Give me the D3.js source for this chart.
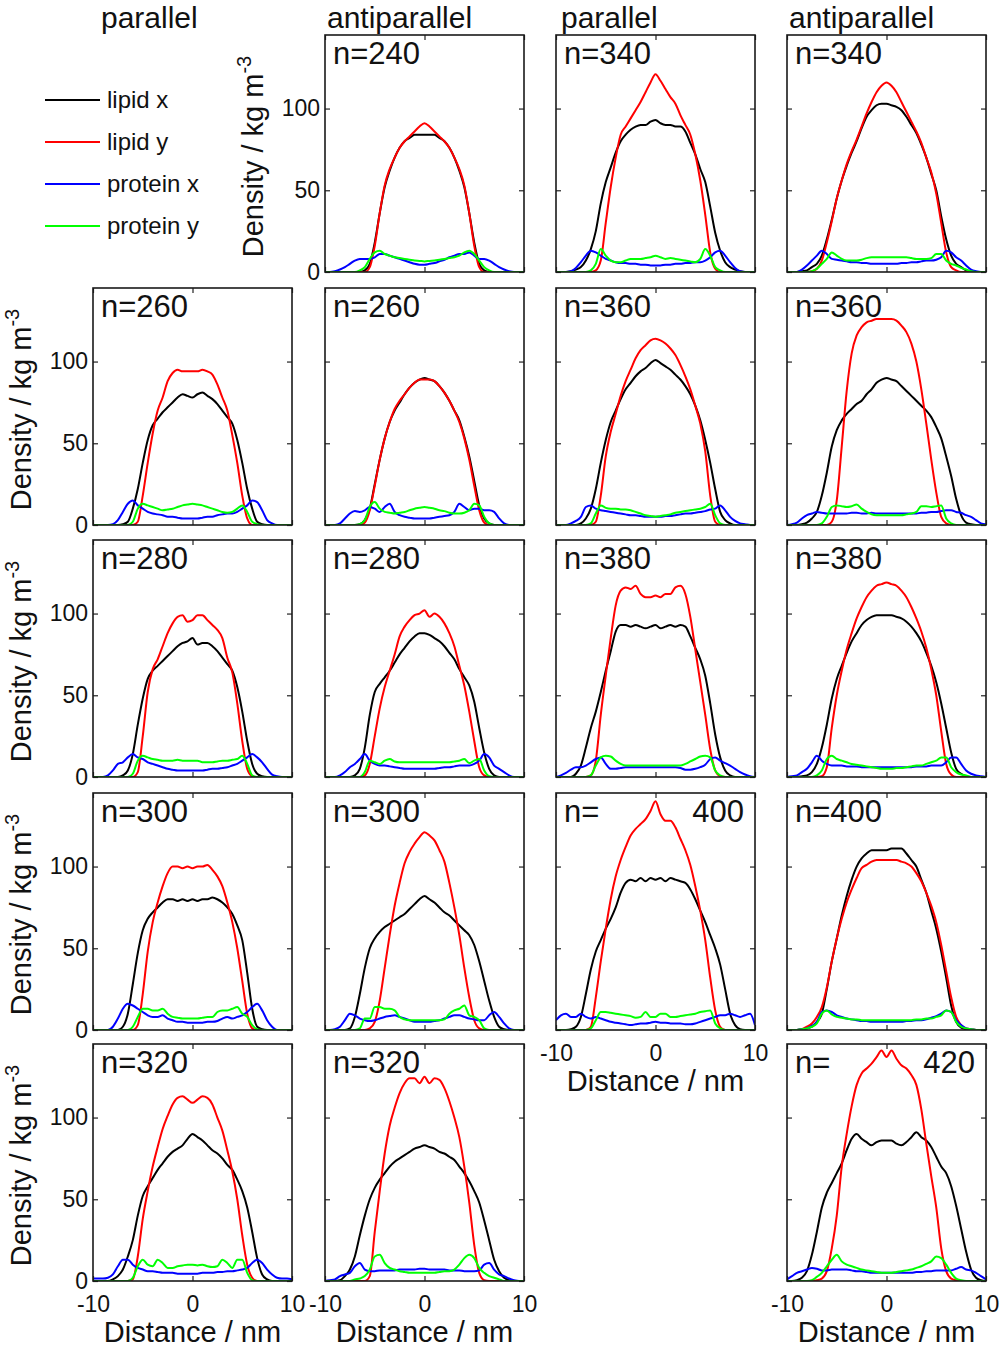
<!DOCTYPE html>
<html><head><meta charset="utf-8">
<script src="https://cdn.jsdelivr.net/npm/d3@7"></script>
<style>
body{margin:0;background:#fff}
svg{display:block}
text{font-family:"Liberation Sans",Arial,Helvetica,sans-serif;fill:#111}
</style>
</head><body>
<svg id="chart" width="1001" height="1349"></svg>
<script>
// ---------- data ----------
const distance = [-10,-9.5,-9,-8.5,-8,-7.5,-7,-6.5,-6,-5.5,-5,-4.5,-4,-3.5,-3,-2.5,-2,-1.5,-1,-0.5,0,0.5,1,1.5,2,2.5,3,3.5,4,4.5,5,5.5,6,6.5,7,7.5,8,8.5,9,9.5,10];
const seriesKeys = ["lipidX","lipidY","proteinX","proteinY"];
const seriesNames = ["lipid x","lipid y","protein x","protein y"];
const seriesColors = ["#000000","#ff0000","#0000ff","#00ff00"];
const columnTitles = ["parallel","antiparallel","parallel","antiparallel"];
const yTickValues = [0,50,100];
const xTickValues = [-10,0,10];

const anti240 = {
 lipidX:  [0,0,0,0,0,0,0,0,1,5, 18,36,52,62,70,76,80,82,84,84,84,84,84,82,80,76,70,62,52,36,18, 5,1,0,0,0,0,0,0,0,0],
 lipidY:  [0,0,0,0,0,0,0,0,0,3, 16,36,53,63,70,76,80,83,86,89,91,89,86,83,80,76,70,63,53,36,16, 3,0,0,0,0,0,0,0,0,0],
 proteinX:[0,0,0.5,1.5,3,5,7,8,8,8, 9,11,11,10,9,8,7,6,5,4.5,4.5,5,5.5,6.5,7.5,9,10,11,11,12,10, 8,8,7,5,3,1.5,0.5,0,0,0],
 proteinY:[0,0,0,0,0,0,0,1,3,8, 12,13,11,10,9,8.5,8,7.5,7,6.8,6.5,6.8,7,7.5,8,8.5,9,10,12,13,11, 7,3,1,0,0,0,0,0,0,0]
};
const par260 = {
 lipidX:  [0,0,0,0,0,0,0.5,2,10,22, 38,52,61,65,69,72,75,78,80,79,78,80,81,79,77,74,70,66,62,52,38, 22,10,2,0.5,0,0,0,0,0,0],
 lipidY:  [0,0,0,0,0,0,0,0,0,2, 18,38,56,70,78,88,93,95,94,94,94,94,95,94,92,86,78,70,55,38,18, 4,0,0,0,0,0,0,0,0,0],
 proteinX:[0,0,0,0,0.5,3,8,13,15,12, 10,8,7,6.5,6,5,5,4.5,4,4,4,4,4.5,5,5,6,6.5,7,7,8,10, 12,15,14,9,3,1,0,0,0,0],
 proteinY:[0,0,0,0,0,0,0,0,2,10, 13,12,11,10,9,9.5,10,11,12,12.5,13,12.5,12,11,10,9,8,7.5,8,10,12, 8,2,0.5,0,0,0,0,0,0,0]
};
const anti260 = {
 lipidX:  [0,0,0,0,0,0,0,0.5,3,10, 25,40,53,63,70,75,80,84,87,89,90,89,88,85,81,76,70,64,54,42,27, 12,4,1,0,0,0,0,0,0,0],
 lipidY:  [0,0,0,0,0,0,0,0,1.5,9, 24,40,53,63,71,76,80,84,87,89,89,89,88,85,81,76,70,63,53,40,24, 9,1.5,0,0,0,0,0,0,0,0],
 proteinX:[0,0,0,1,4,7,8.5,8,9,11, 10,8,11,13,8,6,5,4.5,4,4,4,4,4.5,5,5.5,6,8,13,11,9,10, 10,9,9,8,4,1,0,0,0,0],
 proteinY:[0,0,0,0,0,0,0,0.5,3,11, 14,10,8,7.5,7,7.5,8,9,10,10.5,11,10.5,10,9,8.5,7.5,7,7,7.5,9,13, 12,5,1,0,0,0,0,0,0,0]
};
const par280 = {
 lipidX:  [0,0,0,0,0,0,1,4,14,32, 48,60,65,68,71,74,77,80,82,83,85,81,82,82,80,77,73,69,65,55,40, 22,8,2,0.5,0,0,0,0,0,0],
 lipidY:  [0,0,0,0,0,0,0,0,0,3, 25,52,66,72,80,88,94,98,99,95,96,99,99,96,93,90,85,73,64,45,22, 5,0.5,0,0,0,0,0,0,0,0],
 proteinX:[0,0,0,1,4,8,9,12,14,12, 11,9,8,7,6,5,4.5,4,4,4,4,4,4,4.5,5,5,5.5,6,7,8,10, 12,14,12,9,5,1.5,0.5,0,0,0],
 proteinY:[0,0,0,0,0,0,0,0,2,10, 13,12,11,10.5,10,10,10,10.5,10,10,10,10,9,9,9,9.5,10,10,10.5,11,13, 8,1,0,0,0,0,0,0,0,0]
};
const anti280 = {
 lipidX:  [0,0,0,0,0,0,1,5,18,38, 52,57,61,65,70,75,79,83,86,88,88,87,85,83,80,76,72,66,61,56,46, 30,15,5,1,0,0,0,0,0,0],
 lipidY:  [0,0,0,0,0,0,0,0,1,8, 25,42,55,65,75,86,92,96,99,100,102,98,100,98,94,88,80,68,56,40,22, 6,1,0,0,0,0,0,0,0,0],
 proteinX:[0,0,0,1,3,6,8,11,14,10, 8,7,7,6.5,6,5.5,5,5,5,5,5,5,5,5.5,6,6,6.5,7,7,7,8, 10,14,12,7,5,3,1,0,0,0],
 proteinY:[0,0,0,0,0,0,0,0,3,10, 9,8,10,11,9.5,9,9,9,9,9,9,9,9,9,9,9,9.5,10,11,8.5,10, 11,4,0.5,0,0,0,0,0,0,0]
};
const par300 = {
 lipidX:  [0,0,0,0,0,0,2,10,28,47, 61,68,72,75,78,80,80,79,80,79,80,79,80,80,81,80,78,75,71,64,55, 35,13,2,0.5,0,0,0,0,0,0],
 lipidY:  [0,0,0,0,0,0,0,0,0,3, 22,48,66,78,88,96,100,100,99,100,99,100,100,101,98,94,88,78,66,50,30, 10,1,0,0,0,0,0,0,0,0],
 proteinX:[0,0,0,0,2,7,13,16,15,13, 11,9,8,8,9,7,6,5,5,4.5,4.5,4.5,4.5,5,5,5.5,7,8,7,8,9, 11,14,16,12,6,2,0,0,0,0],
 proteinY:[0,0,0,0,0,0,0,0,2,8, 13,13,12,12,13,10,8,7.5,7,7,7,7,7.5,8,8,11,12,12,13,14,10, 8,3,0.5,0,0,0,0,0,0,0]
};
const anti300 = {
 lipidX:  [0,0,0,0,0,1,8,22,38,50, 56,60,63,65,67,69,71,74,77,80,82,80,78,75,72,70,67,64,61,58,52, 42,30,18,8,2,0.5,0,0,0,0],
 lipidY:  [0,0,0,0,0,0,0,0,0,1, 5,18,38,58,76,90,102,109,114,118,121,119,116,110,103,90,75,58,38,20,6, 1,0,0,0,0,0,0,0,0,0],
 proteinX:[0,0,0.5,2,6,10,9,7,6,5.5, 6,7,8,8.5,9,8,7,6,5,5,5,5,5.5,6,7,8,9,9,8,7,6.5, 6,6,9,11,8,4,1,0,0,0],
 proteinY:[0,0,0,0,0,0,0,1,7,7, 14,14,13,13,12,8,6.5,6,6,6,6,6,6,6,6.5,10,12,13,15,9,8, 6,1,0,0,0,0,0,0,0,0]
};
const par320 = {
 lipidX:  [0,0,0,0,1,3,7,15,25,40, 52,58,63,68,72,76,79,81,83,87,90,88,86,83,80,78,75,71,68,62,55, 45,30,14,4,1,0,0,0,0,0],
 lipidY:  [0,0,0,0,0,0,0,0,1,15, 38,55,70,82,93,101,108,112,113,111,109,111,113,112,108,100,92,80,67,50,28, 10,2,0,0,0,0,0,0,0,0],
 proteinX:[1.5,1.5,1.5,2,4,9,13,13,10,8, 7,6,6,5.5,5,5,5,4.5,4.5,4.5,4.5,4.5,5,5,5,5.5,5.5,6,6,6.5,7, 8,11,13,11,7,4,2,1.5,1.5,1],
 proteinY:[0,0,0,0,0,0,0,0,2,9, 13,10,9,13,11,8,8,9,9.5,10,10,9.5,10,9,8.5,9,13,11,8,13,13, 5,0.5,0,0,0,0,0,0,0,0]
};
const anti320 = {
 lipidX:  [0,0,0,0.5,3,7,15,28,40,50, 57,62,66,70,73,75,77,79,81,82,83,82,81,79,78,76,74,70,66,61,55, 48,37,25,13,6,2,0.5,0,0,0],
 lipidY:  [0,0,0,0,0,0,0,0,0,3, 30,55,78,95,106,115,121,124,124,121,125,121,124,123,118,110,100,88,70,48,22, 5,0.5,0,0,0,0,0,0,0,0],
 proteinX:[0,0.5,1,3,4,5,9,11,7,6, 6,6.5,6.5,6.5,6.5,7,7,7,7,7.5,7.5,7,7,7,7,6.5,6.5,6.5,6,6,6, 6.5,10,11,7,4,3,1.5,0.5,0,0],
 proteinY:[0,0,0,0,0,0,1,1.5,3,7, 15,16,11,8,7,6,5.5,5,5,5,5,5,5,5.5,6,6,7,10,14,16,14, 8,5,3,2,1,0,0,0,0,0]
};
const par340 = {
 lipidX:  [0,0,0,0.5,1.5,3,7,14,25,42, 55,64,73,80,84,87,89,90,90,92,93,91,90,90,89,89,86,79,72,63,55, 40,24,13,6,3,1.5,0.5,0,0,0],
 lipidY:  [0,0,0,0,0,0,0,0,1,7, 30,52,70,84,89,94,99,104,110,116,121,117,112,107,103,96,90,84,72,56,35, 12,2,0,0,0,0,0,0,0,0],
 proteinX:[0,0,0,0.5,2.5,6,10,13,12,10, 8,7,6,5.5,5.5,5,5,4.5,4.5,4,4,4,4.5,4.5,5,5,5.5,5.5,6,6,7, 9,12,13,10,6,2.5,0.5,0,0,0],
 proteinY:[0,0,0,0,0,0,0,1,5,14, 10,7,6,6,7,8,8,8,8.5,9,10,9,8,8.5,8,7.5,7,6.5,6,8,14, 10,3,1,0,0,0,0,0,0,0]
};
const anti340 = {
 lipidX:  [0,0,0,0.5,1,3,5,10,20,32, 45,56,65,73,80,88,95,99,102,103,103,102,101,99,95,90,85,78,70,60,50, 34,20,10,5,3,1,0.5,0,0,0],
 lipidY:  [0,0,0,0,0,0.5,2,7,18,31, 45,56,66,74,81,89,97,104,110,114,116,114,110,104,98,92,86,79,70,61,48, 30,12,3,1,0,0,0,0,0,0],
 proteinX:[0,0,0,1.5,4,7,10,13,11,8, 7.5,7,6.5,6,6,5.5,5.5,5,5,5,5,5,5,5.5,5.5,6,6,6.5,7,7,7.5, 9,13,12,9,7,4,1.5,0.5,0,0],
 proteinY:[0,0,0,0,0,0.5,2,5,8,12, 10,8,7,7,7,7.5,8.5,9,9,9,9,9,9,9,9,8.5,8,8,8,8.5,11, 11,7,5,4,2.5,1.5,0.5,0,0,0]
};
const par360 = {
 lipidX:  [0,0,0,0,0,1,4,10,22,38, 52,63,70,77,83,87,91,94,96,99,101,99,97,95,92,89,85,80,73,64,52, 38,22,8,3,1,0,0,0,0,0],
 lipidY:  [0,0,0,0,0,0,0,0,2,18, 42,57,68,79,88,95,102,107,110,113,114,113,111,108,104,98,91,83,73,62,45, 18,2,0,0,0,0,0,0,0,0],
 proteinX:[0,0,0,1,2.5,5,11,12,10,9, 8.5,8,7.5,7,6.5,6,6,5.5,5,5,5,5,5.5,5.5,6,6.5,7,7,7.5,8,8.5, 9.5,10,12,9,5,2.5,1,0.5,0,0],
 proteinY:[0,0,0,0,0,0,0,1,7,12, 10.5,10,10,9.5,9.5,9,8,7,6,5.5,5,5.5,6,6.5,7.5,8,8.5,9,9.5,10,11, 13,6,1,0,0,0,0,0,0,0]
};
const anti360 = {
 lipidX:  [0,0,0,0.5,1.5,4,8,18,32,48, 58,64,68,71,74,76,80,83,87,89,90,89,88,85,82,79,76,73,70,66,60, 53,42,30,16,6,1.5,0.5,0,0,0],
 lipidY:  [0,0,0,0,0,0,0,0,0,2, 15,48,82,105,116,121,124,125,126,126,126,126,125,122,118,111,100,83,62,40,20, 5,1,0,0,0,0,0,0,0,0],
 proteinX:[0,0.5,1.5,4,6,7,8,7.5,7,7, 7,7,7,7.5,7.5,7,7,7.5,7,7,7,7,7,7,7,7,7,7.5,7.5,8,8, 8.5,9,9,8,7.5,6,5,3,1,0.5],
 proteinY:[0,0,0,0,0,0,0,1,5,11, 12,11.5,11,11.5,12.5,10,8,6.5,6,6,6,6,6,6,6.5,7,8,11.5,11.5,11,11.5, 12,4,1,0,0,0,0,0,0,0]
};
const par380 = {
 lipidX:  [0,0,0,0,2,7,18,30,40,52, 65,77,89,93,93,92,93,92,91,92,93,91,92,93,92,93,92,86,79,72,62, 45,26,12,4,1,0,0,0,0,0],
 lipidY:  [0,0,0,0,0,0,0,1,10,38, 62,85,105,114,116,115,117,112,110,110,111,110,112,112,116,117,112,98,78,58,38, 17,4,0.5,0,0,0,0,0,0,0],
 proteinX:[0,1,2.5,4.5,6,6,7,9,11,12, 8,5,5,5.5,6,6,6,6,6,6,6,6,6,6,6,5.5,4.5,4.5,5,6,7.5, 11,12,10,8.5,7,5,3,1.5,0.5,0],
 proteinY:[0,0,0,0,0,0,0,1,7,12, 13,12.5,10,8,7,7,7,7,7,7,7,7,7,7,7,7,8,9.5,11,12.5,13, 12,4,1,0,0,0,0,0,0,0]
};
const anti380 = {
 lipidX:  [0,0,0,0.5,1,3,8,18,32,48, 60,68,76,83,88,93,96,98,99,99,99,99,98,97,95,92,88,83,76,68,58, 45,30,15,5,2,0.5,0,0,0,0],
 lipidY:  [0,0,0,0,0,0,0,0.5,6,30, 50,65,78,88,97,104,110,114,117,118,119,118,117,114,110,104,97,89,79,66,50, 28,8,1.5,0,0,0,0,0,0,0],
 proteinX:[0,0.5,1,3,5,9,13,10,8,7, 7,7,6.5,6.5,6.5,6,6,6,6,6,6,6,6,6,6,6,6.5,6.5,6.5,7,7, 7,9,12,12,8,4,2,1,0.5,0],
 proteinY:[0,0,0,0,0,0,1,4,11,13, 11,10,9,8,7.5,7,6.5,6,5.5,5,5,5,5.5,5.5,6,6.5,7,7,8,9,10, 12,12,6,3,1.5,1,0,0,0,0]
};
const par400 = {
 lipidX:  [0,0,0,0.5,2,8,22,37,48,55, 62,68,75,84,90,92,91,93,91,93,92,93,91,93,92,91,90,86,80,73,66, 58,50,40,25,10,3,0.5,0,0,0],
 lipidY:  [0,0,0,0,0,0,0,2,20,42, 62,80,94,104,112,119,123,126,129,134,140,132,128,128,124,117,110,101,88,73,55, 32,12,2,0,0,0,0,0,0,0],
 proteinX:[6,9,10,8,8,10,8,7,8,7, 6,5,4.5,4,3.5,3,3.5,4,4,4.5,5,4.5,4.5,4,4,4,3.5,3.5,4,5,6, 7,8,9,9,10,9,8,9,10,3],
 proteinY:[0,0,0,0,0,0,0,1,6,11, 11,10.5,10,9.5,9,8.5,7.5,8,11,8,8,10,10,8,8,8.5,9,9.5,10,11,11.5, 12,4,1,0,0,0,0,0,0,0]
};
const anti400 = {
 lipidX:  [0,0,0,0.5,1,2,5,10,25,42, 56,70,82,92,100,105,108,110,110,110,110,111,111,111,108,104,100,92,84,73,62, 48,32,15,5,1.5,0.5,0,0,0,0],
 lipidY:  [0,0,0,0.5,2,4,8,14,26,42, 56,68,78,86,93,99,101,103,104,104,104,104,104,103,102,100,96,91,84,76,66, 52,36,20,8,3,1,0.5,0,0,0],
 proteinX:[0,0,0,0.5,1,2.5,5,11,12,11, 9,8,7,6.5,6,5.5,5.5,5,5,5,5,5,5,5,5.5,5.5,6,6,6.5,7.5,8.5, 10,12,11,6,3,1,0.5,0,0,0],
 proteinY:[0,0,0,0.5,1,2,4,10,12,9.5, 8,7.5,7,6.5,6.5,6,6,6,6,6,6,6,6,6,6,6,6.5,6.5,7,7,8, 9,12,11,5,2,1,0.5,0,0,0]
};
const anti420 = {
 lipidX:  [0,0,0.5,2,6,16,30,45,54,60, 66,72,80,87,90,87,85,83,85,86,86,86,84,83,85,88,91,88,86,82,76, 70,66,58,46,32,18,7,2,0.5,0],
 lipidY:  [0,0,0,0,0,0,0.5,1.5,6,20, 40,70,90,107,120,127,130,133,137,141,137,141,136,132,130,126,120,105,84,64,45, 20,6,1.5,0.5,0,0,0,0,0,0],
 proteinX:[1,3,5,6,7,8,7.5,6.5,6.5,7, 7,7,7,6.5,6,6,5.5,5,5,5,5,5,5,5,5,5,5.5,5.5,6,6,6.5, 6.5,6.5,6.5,7.5,8.5,7,6.5,5,3,1],
 proteinY:[0,0,0,0,0,0.5,2.5,5,9,13, 16,12,10,9,8,7,6.5,6,5.5,5,5,5,5.5,6,6.5,7,8,9,10.5,12,15, 14,10,5,1.5,0.5,0,0,0,0,0]
};

// panels: column, row, label
const panels = [
  {col:0,row:1,n:"260",data:par260},
  {col:0,row:2,n:"280",data:par280},
  {col:0,row:3,n:"300",data:par300},
  {col:0,row:4,n:"320",data:par320},
  {col:1,row:0,n:"240",data:anti240},
  {col:1,row:1,n:"260",data:anti260},
  {col:1,row:2,n:"280",data:anti280},
  {col:1,row:3,n:"300",data:anti300},
  {col:1,row:4,n:"320",data:anti320},
  {col:2,row:0,n:"340",data:par340},
  {col:2,row:1,n:"360",data:par360},
  {col:2,row:2,n:"380",data:par380},
  {col:2,row:3,n:"400",data:par400,split:true},
  {col:3,row:0,n:"340",data:anti340},
  {col:3,row:1,n:"360",data:anti360},
  {col:3,row:2,n:"380",data:anti380},
  {col:3,row:3,n:"400",data:anti400},
  {col:3,row:4,n:"420",data:anti420,split:true}
];

// ---------- layout ----------
const colLeft = [93, 325, 556, 787];
const rowTop = [35, 288, 540, 793, 1044];
const PW = 199, PH = 237;
const titleX = [101, 327, 561, 789];
const FONT = '"Liberation Sans",Arial,Helvetica,sans-serif';

const svg = d3.select("#chart");
const defs = svg.append("defs");

// column titles
columnTitles.forEach((t,i)=>{
  svg.append("text").attr("x",titleX[i]).attr("y",28)
    .attr("font-size",30).text(t);
});

// legend
const legend = svg.append("g").attr("transform","translate(45,100)");
seriesNames.forEach((name,i)=>{
  const gy = i*42;
  legend.append("line").attr("x1",0).attr("x2",55).attr("y1",gy).attr("y2",gy)
    .attr("stroke",seriesColors[i]).attr("stroke-width",2);
  legend.append("text").attr("x",62).attr("y",gy+8).attr("font-size",24).text(name);
});

const x = d3.scaleLinear().domain([-10,10]).range([0,PW]);
const y = d3.scaleLinear().domain([0,145]).range([PH,0]);

const lastRowOfCol = [4,4,3,4];

panels.forEach((p,idx)=>{
  const g = svg.append("g").attr("transform",`translate(${colLeft[p.col]},${rowTop[p.row]})`);
  const clipId = "clip"+idx;
  defs.append("clipPath").attr("id",clipId).append("rect")
    .attr("x",0).attr("y",0).attr("width",PW).attr("height",PH);

  const showY = (p.col===0) || (p.col===1 && p.row===0);
  const showX = p.row===lastRowOfCol[p.col];

  const line = d3.line().x((d,i)=>x(distance[i])).y(d=>y(d)).curve(d3.curveMonotoneX);
  const lg = g.append("g").attr("clip-path",`url(#${clipId})`);
  seriesKeys.forEach((k,si)=>{
    lg.append("path").datum(p.data[k]).attr("d",line)
      .attr("fill","none").attr("stroke",seriesColors[si])
      .attr("stroke-width",2).attr("stroke-linejoin","round");
  });

  // axes (inward ticks)
  const left = g.append("g").call(d3.axisLeft(y).tickValues(yTickValues).tickSize(-5).tickPadding(5)
      .tickFormat(showY? d3.format("d") : ()=>""));
  const right = g.append("g").attr("transform",`translate(${PW},0)`)
      .call(d3.axisRight(y).tickValues(yTickValues).tickSize(-5).tickFormat(()=>""));
  const bottom = g.append("g").attr("transform",`translate(0,${PH})`)
      .call(d3.axisBottom(x).tickValues(xTickValues).tickSize(-5).tickPadding(15)
      .tickFormat(showX? (d=>String(d)) : ()=>""));
  const top = g.append("g")
      .call(d3.axisTop(x).tickValues(xTickValues).tickSize(-5).tickFormat(()=>""));
  [left,right,bottom,top].forEach(a=>{
    a.select(".domain").remove();
    a.selectAll(".tick line").attr("stroke","#222").attr("stroke-width",1.2);
    a.selectAll("text").attr("font-size",23).attr("font-family",FONT).attr("fill","#111");
  });

  // frame
  g.append("rect").attr("x",0).attr("y",0).attr("width",PW).attr("height",PH)
    .attr("fill","none").attr("stroke","#1a1a1a").attr("stroke-width",1.6);

  // n label
  if (p.split) {
    g.append("text").attr("x",8).attr("y",29).attr("font-size",31).text("n=");
    g.append("text").attr("x",PW-11).attr("y",29).attr("font-size",31)
      .attr("text-anchor","end").text(p.n);
  } else {
    g.append("text").attr("x",8).attr("y",29).attr("font-size",31).text("n="+p.n);
  }

  if (showY) {
    const t = g.append("text")
      .attr("transform",`translate(-62,${PH/2+3}) rotate(-90)`)
      .attr("text-anchor","middle").attr("font-size",29);
    t.append("tspan").text("Density / kg m");
    t.append("tspan").attr("dy",-12).attr("font-size",20).text("-3");
  }
  if (showX) {
    g.append("text").attr("x",PW/2).attr("y",PH+61).attr("text-anchor","middle")
      .attr("font-size",29).text("Distance / nm");
  }
});

// sanity check on data lengths
panels.forEach(p=>seriesKeys.forEach(k=>{
  if (p.data[k].length!==distance.length) throw new Error("Length mismatch n="+p.n+" col"+p.col+" "+k+": "+p.data[k].length);
}));
</script>
</body></html>
